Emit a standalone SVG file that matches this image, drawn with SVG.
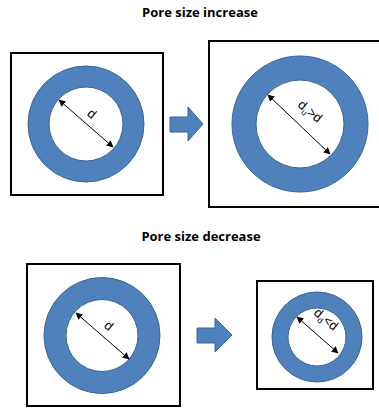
<svg xmlns="http://www.w3.org/2000/svg" width="379" height="408" viewBox="0 0 379 408">
<defs>
<style>
.title{font-family:"Open Sans","Liberation Sans",sans-serif;font-weight:bold;font-size:13px;fill:#000;text-anchor:middle}
.box{fill:#fff;stroke:#000;stroke-width:2}
.ring{fill:#4F81BD;stroke:#3A6496;stroke-width:1}
.pore{fill:#fff;stroke:#3A6496;stroke-width:1}
.dim{stroke:#000;stroke-width:1;fill:none;marker-start:url(#ah);marker-end:url(#ah)}
.lbl{font-family:"Liberation Sans",Arial,sans-serif;font-size:13px;fill:#000}
.sub{font-size:8.5px}
.barrow{fill:#4F81BD;stroke:#3A6496;stroke-width:1}
</style>
<marker id="ah" viewBox="0 0 10 10" refX="9" refY="5" markerWidth="7" markerHeight="7" orient="auto-start-reverse" markerUnits="userSpaceOnUse">
<path d="M0,0 L10,5 L0,10 z" fill="#000"/>
</marker>
</defs>
<rect width="379" height="408" fill="#fff"/>
<text class="title" x="200" y="17">Pore size increase</text>
<text class="title" x="201" y="241">Pore size decrease</text>

<g id="box1">
<rect class="box" x="11" y="53" width="152" height="142"/>
<circle class="ring" cx="86" cy="124" r="58"/>
<circle class="pore" cx="86" cy="124" r="37"/>
<text class="lbl" transform="translate(89,117) rotate(40)" text-anchor="middle">d</text>
</g>

<g id="box2">
<rect class="box" x="209" y="41" width="175" height="166"/>
<circle class="ring" cx="300" cy="124" r="68"/>
<circle class="pore" cx="300" cy="124" r="44"/>
<text class="lbl" transform="translate(297,106) rotate(40)">d<tspan class="sub" dy="3">u</tspan><tspan dy="-3">&gt;d</tspan></text>
</g>

<g id="box3">
<rect class="box" x="27" y="264" width="153" height="142"/>
<circle class="ring" cx="102" cy="335.5" r="58"/>
<circle class="pore" cx="102" cy="335.5" r="36"/>
<text class="lbl" transform="translate(106,329) rotate(40)" text-anchor="middle">d</text>
</g>

<g id="box4">
<rect class="box" x="257" y="281" width="116" height="108"/>
<circle class="ring" cx="317" cy="337" r="45"/>
<circle class="pore" cx="317" cy="337" r="29"/>
<text class="lbl" transform="translate(313,314) rotate(40)">d<tspan class="sub" dy="3">d</tspan><tspan dy="-3">&lt;d</tspan></text>
</g>

<g id="arrow1">
<path class="barrow" d="M170,117 L188,117 L188,107 L203,124 L188,141 L188,132 L170,132 z"/>
</g>
<g id="arrow2">
<path class="barrow" d="M197,328 L215,328 L215,318 L232,335 L215,352 L215,343 L197,343 z"/>
</g>

<g id="connectors">
<line class="dim" x1="59" y1="100" x2="113" y2="147"/>
<line class="dim" x1="268" y1="95" x2="330" y2="154"/>
<line class="dim" x1="76" y1="313" x2="129" y2="359"/>
<line class="dim" x1="297" y1="317" x2="338" y2="353"/>
</g>
</svg>
